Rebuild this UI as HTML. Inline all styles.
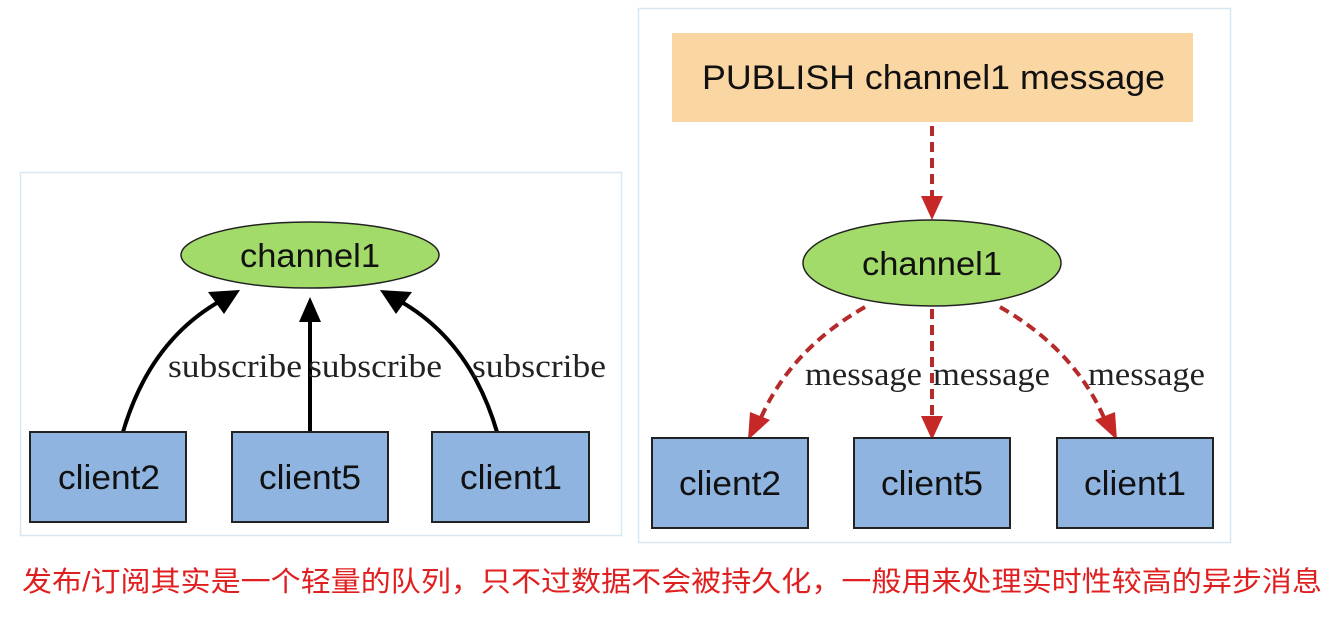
<!DOCTYPE html>
<html><head><meta charset="utf-8"><style>
html,body{margin:0;padding:0;background:#fff;}
svg{display:block;}
</style></head><body>
<svg width="1332" height="618" viewBox="0 0 1332 618" xmlns="http://www.w3.org/2000/svg">
<!-- left frame -->
<rect x="20.5" y="172.5" width="601" height="363" fill="#fff" stroke="#d8e8f2" stroke-width="1.5"/>
<g stroke="#000" stroke-width="4" fill="none">
<path d="M123,432 Q150,340 222,300"/>
<path d="M310,432 L310,318"/>
<path d="M497,432 Q470,340 398,300"/>
</g>
<g fill="#000">
<polygon points="240,290 208,292 224,314"/>
<polygon points="310,297 299,322 321,322"/>
<polygon points="380,290 412,292 396,314"/>
</g>
<ellipse cx="310" cy="255" rx="129" ry="33" fill="#a3db6a" stroke="#222" stroke-width="1.5"/>
<text x="240" y="267" font-family="Liberation Sans, sans-serif" font-size="33" fill="#111" textLength="140" lengthAdjust="spacingAndGlyphs">channel1</text>
<g font-family="Liberation Serif, serif" font-size="33" fill="#222">
<text x="168" y="377" textLength="134" lengthAdjust="spacingAndGlyphs">subscribe</text>
<text x="308" y="377" textLength="134" lengthAdjust="spacingAndGlyphs">subscribe</text>
<text x="472" y="377" textLength="134" lengthAdjust="spacingAndGlyphs">subscribe</text>
</g>
<g fill="#8fb4e0" stroke="#222" stroke-width="2">
<rect x="30" y="432" width="156" height="90"/>
<rect x="232" y="432" width="156" height="90"/>
<rect x="432" y="432" width="157" height="90"/>
</g>
<g font-family="Liberation Sans, sans-serif" font-size="34" fill="#111">
<text x="58" y="489" textLength="102" lengthAdjust="spacingAndGlyphs">client2</text>
<text x="259" y="489" textLength="102" lengthAdjust="spacingAndGlyphs">client5</text>
<text x="460" y="489" textLength="102" lengthAdjust="spacingAndGlyphs">client1</text>
</g>
<!-- right frame -->
<rect x="638.5" y="8.5" width="592" height="534" fill="#fff" stroke="#d8e8f2" stroke-width="1.5"/>
<rect x="672" y="33" width="521" height="89" fill="#fad6a3"/>
<text x="702" y="89" font-family="Liberation Sans, sans-serif" font-size="34" fill="#111" textLength="463" lengthAdjust="spacingAndGlyphs">PUBLISH channel1 message</text>
<g stroke="#b52a2a" stroke-width="4" fill="none" stroke-dasharray="10,6">
<path d="M932,126 L932,198"/>
<path d="M865,307 Q790,350 760,420"/>
<path d="M932,309 L932,418"/>
<path d="M1000,307 Q1075,350 1105,420"/>
</g>
<g fill="#c62828">
<polygon points="932,220 921,196 943,196"/>
<polygon points="748,440 750,412 770,420"/>
<polygon points="932,440 921,416 943,416"/>
<polygon points="1117,440 1095,420 1115,412"/>
</g>
<ellipse cx="932" cy="263" rx="129" ry="43" fill="#a3db6a" stroke="#222" stroke-width="1.5"/>
<text x="862" y="275" font-family="Liberation Sans, sans-serif" font-size="33" fill="#111" textLength="140" lengthAdjust="spacingAndGlyphs">channel1</text>
<g font-family="Liberation Serif, serif" font-size="33" fill="#222">
<text x="805" y="385" textLength="117" lengthAdjust="spacingAndGlyphs">message</text>
<text x="933" y="385" textLength="117" lengthAdjust="spacingAndGlyphs">message</text>
<text x="1088" y="385" textLength="117" lengthAdjust="spacingAndGlyphs">message</text>
</g>
<g fill="#8fb4e0" stroke="#222" stroke-width="2">
<rect x="652" y="438" width="156" height="90"/>
<rect x="854" y="438" width="156" height="90"/>
<rect x="1057" y="438" width="156" height="90"/>
</g>
<g font-family="Liberation Sans, sans-serif" font-size="34" fill="#111">
<text x="679" y="495" textLength="102" lengthAdjust="spacingAndGlyphs">client2</text>
<text x="881" y="495" textLength="102" lengthAdjust="spacingAndGlyphs">client5</text>
<text x="1084" y="495" textLength="102" lengthAdjust="spacingAndGlyphs">client1</text>
</g>
<text x="22" y="591" font-family="Liberation Sans, 'Noto Sans CJK SC', sans-serif" font-size="28" fill="#e02020" textLength="1300" lengthAdjust="spacingAndGlyphs">发布/订阅其实是一个轻量的队列，只不过数据不会被持久化，一般用来处理实时性较高的异步消息</text>
</svg>
</body></html>
